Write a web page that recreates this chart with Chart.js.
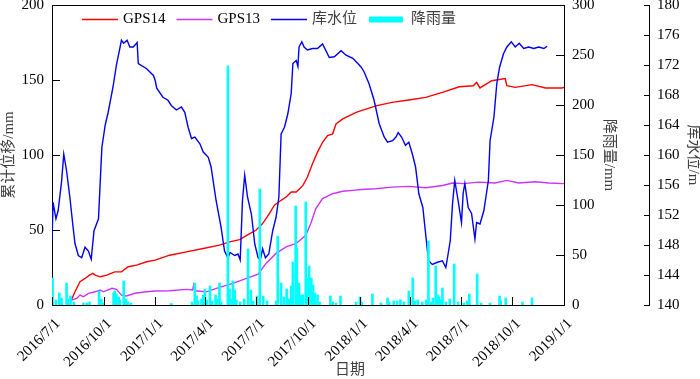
<!DOCTYPE html>
<html><head><meta charset="utf-8">
<script src="https://cdn.jsdelivr.net/npm/chart.js@4.4.0/dist/chart.umd.min.js"></script>
<style>html,body{margin:0;padding:0;background:#fff;}</style>
</head><body>
<canvas id="c" width="700" height="379"></canvas>
<script>
// ---------- data ----------
const xTickLabels = ['2016/7/1','2016/10/1','2017/1/1','2017/4/1','2017/7/1','2017/10/1','2018/1/1','2018/4/1','2018/7/1','2018/10/1','2019/1/1'];

const gps14Dates = ['2016-08-03','2016-08-11','2016-08-20','2016-08-29','2016-09-06','2016-09-12','2016-09-16','2016-09-25','2016-10-07','2016-10-21','2016-11-02','2016-11-14','2016-11-29','2016-12-17','2017-01-01','2017-01-27','2017-02-26','2017-03-28','2017-04-26','2017-05-14','2017-06-01','2017-06-19','2017-06-30','2017-07-12','2017-07-24','2017-08-02','2017-08-14','2017-08-23','2017-09-01','2017-09-10','2017-09-22','2017-09-30','2017-10-09','2017-10-18','2017-10-27','2017-11-05','2017-11-14','2017-11-20','2017-12-02','2017-12-14','2017-12-26','2018-01-04','2018-02-01','2018-02-28','2018-03-30','2018-04-29','2018-05-29','2018-06-28','2018-07-23','2018-07-29','2018-08-04','2018-08-25','2018-09-18','2018-09-21','2018-10-06','2018-11-05','2018-11-29','2018-12-28','2019-01-01'];
const gps14Values = [2.2,8.8,15.5,17.7,19.9,21.1,19.9,18.8,19.9,22.1,22.1,25.5,26.6,28.8,29.9,33.2,35.4,37.7,39.9,42.1,43.6,47.6,49.8,54.3,60.9,66.5,69.8,72.0,75.3,75.3,79.7,85.3,94.2,101.9,108.5,113.0,114.1,120.7,124.1,126.3,128.4,129.6,132.9,135.1,136.7,138.4,141.7,145.5,146.2,148.4,144.7,149.5,151.0,146.2,145.1,146.9,144.7,144.7,145.0];

const gps13Dates = ['2016-08-05','2016-08-14','2016-08-20','2016-08-26','2016-09-04','2016-09-16','2016-09-25','2016-10-01','2016-10-16','2016-10-24','2016-11-02','2016-11-11','2016-11-26','2016-12-17','2017-01-01','2017-01-27','2017-02-26','2017-03-09','2017-03-11','2017-03-13','2017-04-02','2017-04-26','2017-05-20','2017-06-13','2017-07-04','2017-07-18','2017-08-05','2017-08-23','2017-09-10','2017-09-27','2017-10-06','2017-10-15','2017-10-27','2017-11-14','2017-12-02','2017-12-20','2018-01-04','2018-01-30','2018-02-28','2018-03-30','2018-04-29','2018-05-29','2018-06-16','2018-07-06','2018-08-02','2018-08-31','2018-09-21','2018-10-12','2018-11-11','2018-12-05','2019-01-01'];
const gps13Values = [3.3,4.4,6.6,5.5,7.8,8.8,10.0,8.8,11.1,10.4,6.6,6.0,7.8,8.8,9.3,9.5,10.4,10.0,13.3,9.5,8.8,11.8,14.4,17.7,20.5,27.7,34.4,38.7,41.0,46.5,54.3,64.3,70.9,74.2,75.8,76.4,77.0,77.5,78.6,79.1,78.2,79.7,81.3,80.9,81.9,81.3,83.1,81.3,82.2,81.3,80.9];

const waterDates = [
 '2016-07-01','2016-07-03','2016-07-08','2016-07-12','2016-07-18','2016-07-22','2016-07-27','2016-08-02','2016-08-07','2016-08-11',
 '2016-08-17','2016-08-23','2016-08-29','2016-09-04','2016-09-09','2016-09-14','2016-09-22','2016-09-28','2016-10-04','2016-10-09',
 '2016-10-18','2016-10-24','2016-11-02','2016-11-06','2016-11-12','2016-11-17','2016-11-23','2016-11-30','2016-12-02','2016-12-17',
 '2016-12-29','2017-01-01','2017-01-04','2017-01-15','2017-01-24','2017-01-30','2017-02-08','2017-02-17','2017-02-23','2017-03-01',
 '2017-03-07','2017-03-13','2017-03-22','2017-03-28','2017-04-06','2017-04-11','2017-04-20','2017-04-29','2017-05-05','2017-05-11',
 '2017-05-15','2017-05-23','2017-05-29','2017-06-02','2017-06-06','2017-06-10','2017-06-15','2017-06-22','2017-06-28','2017-07-04',
 '2017-07-08','2017-07-12','2017-07-17','2017-07-23','2017-07-30','2017-08-05','2017-08-10','2017-08-14','2017-08-20','2017-08-26',
 '2017-09-01','2017-09-04','2017-09-10','2017-09-13','2017-09-15','2017-09-20','2017-09-24','2017-09-30','2017-10-09','2017-10-18',
 '2017-10-27','2017-11-08','2017-11-17','2017-11-29','2017-12-08','2017-12-20','2017-12-29','2018-01-04','2018-01-09','2018-01-18',
 '2018-01-27','2018-02-05','2018-02-14','2018-02-20','2018-03-01','2018-03-07','2018-03-11','2018-03-17','2018-03-24','2018-03-30',
 '2018-04-05','2018-04-11','2018-04-17','2018-04-24','2018-04-29','2018-05-04','2018-05-11','2018-05-20','2018-05-29','2018-06-04',
 '2018-06-07','2018-06-12','2018-06-16','2018-06-20','2018-06-26','2018-07-02','2018-07-05','2018-07-08','2018-07-14','2018-07-20',
 '2018-07-26','2018-07-29','2018-08-04','2018-08-11','2018-08-19','2018-08-22','2018-08-29','2018-09-03','2018-09-08','2018-09-15',
 '2018-09-21','2018-09-29','2018-10-06','2018-10-13','2018-10-21','2018-10-30','2018-11-08','2018-11-17','2018-11-26','2018-12-02'];
const waterLevels = [
 148.6,153.7,151.5,152.6,156.4,160.1,157.9,154.3,150.8,148.2,
 146.6,146.3,147.7,147.2,146.1,149.9,151.5,161.0,164.0,165.6,
 169.1,172.0,175.3,174.9,175.3,174.4,174.4,175.0,172.2,171.5,
 170.6,170.0,168.9,167.7,167.3,166.6,166.0,166.4,165.7,163.7,
 162.2,162.4,161.5,160.4,159.7,158.4,153.9,150.3,147.2,146.3,
 147.0,146.6,146.8,146.0,153.9,157.3,154.4,152.1,148.1,146.3,
 146.1,147.5,146.3,146.8,149.9,151.7,154.4,162.8,163.7,165.5,
 168.2,172.2,172.6,171.8,174.4,175.1,174.4,174.0,174.2,174.2,
 174.8,173.0,173.1,173.9,173.3,172.9,172.2,171.7,171.1,169.5,
 167.3,164.2,162.4,161.7,161.9,162.4,163.0,162.4,161.3,161.7,
 160.2,158.4,154.8,153.0,149.5,145.9,145.4,145.7,145.9,145.0,
 146.3,148.6,153.5,156.6,153.9,151.0,154.9,156.2,153.0,152.2,
 148.8,151.0,150.8,152.6,156.6,161.9,165.1,169.5,171.7,173.5,
 174.4,175.1,174.4,174.9,174.2,174.4,174.2,174.4,174.2,174.5];

const rainDates = ['2016-07-02','2016-07-08','2016-07-14','2016-07-18','2016-07-27','2016-07-30','2016-08-03','2016-08-09','2016-08-26','2016-09-01','2016-09-06','2016-09-23','2016-09-27','2016-10-01','2016-10-19','2016-10-21','2016-10-24','2016-10-28','2016-10-30','2016-11-06','2016-11-10','2016-11-14','2016-11-19','2017-01-30','2017-03-08','2017-03-13','2017-03-16','2017-03-19','2017-03-25','2017-03-28','2017-03-31','2017-04-03','2017-04-09','2017-04-13','2017-04-19','2017-04-22','2017-04-26','2017-04-29','2017-05-11','2017-05-14','2017-05-17','2017-05-20','2017-05-23','2017-05-26','2017-06-02','2017-06-09','2017-06-16','2017-06-21','2017-06-25','2017-07-02','2017-07-07','2017-07-13','2017-07-20','2017-08-05','2017-08-08','2017-08-14','2017-08-19','2017-08-24','2017-08-28','2017-09-01','2017-09-04','2017-09-09','2017-09-11','2017-09-15','2017-09-18','2017-09-22','2017-09-27','2017-09-30','2017-10-03','2017-10-07','2017-10-10','2017-10-13','2017-10-18','2017-10-22','2017-11-10','2017-11-14','2017-11-20','2017-11-28','2017-12-26','2018-01-02','2018-01-05','2018-01-24','2018-02-08','2018-02-20','2018-02-23','2018-03-03','2018-03-09','2018-03-15','2018-03-21','2018-03-30','2018-04-06','2018-04-10','2018-04-15','2018-04-23','2018-04-30','2018-05-04','2018-05-09','2018-05-12','2018-05-17','2018-05-20','2018-05-23','2018-05-26','2018-05-29','2018-06-04','2018-06-11','2018-06-19','2018-06-26','2018-07-06','2018-07-12','2018-07-16','2018-07-30','2018-08-06','2018-08-22','2018-09-08','2018-09-10','2018-09-19','2018-10-19','2018-11-05'];
const rainValues = [27,5,12,7,22,6,9,3,2,2,3,14,6,2,12,14,11,8,5,24,6,3,2,1.5,3,22,9,4,6,10,16,5,19,4,10,6,22,3,239,16,6,24,15,5,3,6,56,15,4,9,116,9,4,4,69,22,8,16,6,19,43,99,57,22,10,10,103,27,39,27,20,12,10,3,9,3,2,9,3,8,3,11,2,7,3,4,4,5,3,14,27,4,5,3,5,64,3,7,39,10,8,5,17,3,6,41,3,2,4,11,31,2,2,9,4,7,3,7];

// ---------- helpers ----------
function dayOf(s){ const p = s.split(/[-\/]/).map(Number); return (Date.UTC(p[0],p[1]-1,p[2]) - Date.UTC(2016,6,1))/86400000; }
const xTickDays = xTickLabels.map(dayOf);
function pts(d, v){ const n = Math.min(d.length, v.length); const out=[]; for(let i=0;i<n;i++) out.push({x:dayOf(d[i]), y:v[i]}); return out; }

const FONT = "'Liberation Serif','Times New Roman','Noto Sans CJK SC',serif";
Chart.defaults.font.family = FONT;
Chart.defaults.font.size = 15;
Chart.defaults.color = '#000';

const noGrid = {display:false, drawTicks:false};
const border = {display:true, color:'#000', width:1};
const titleColor = '#404040';

const overlay = {
  id:'overlay',
  afterDraw(chart){
    const {ctx, chartArea:a, scales} = chart;
    ctx.save();
    ctx.strokeStyle = '#000'; ctx.lineWidth = 1;
    const L = (x1,y1,x2,y2)=>{ctx.beginPath();ctx.moveTo(x1,y1);ctx.lineTo(x2,y2);ctx.stroke();};
    // top frame
    L(a.left, Math.round(a.top)+0.5, a.right, Math.round(a.top)+0.5);
    // inward ticks
    scales.y.ticks.forEach(t=>{const p=Math.round(scales.y.getPixelForValue(t.value))+0.5; L(a.left, p, a.left+8, p);});
    scales.yRain.ticks.forEach(t=>{const p=Math.round(scales.yRain.getPixelForValue(t.value))+0.5; L(a.right-8, p, a.right, p);});
    const xw = scales.yWater.left;
    scales.yWater.ticks.forEach(t=>{const p=Math.round(scales.yWater.getPixelForValue(t.value))+0.5; L(xw-5, p, xw, p);});
    scales.x.ticks.forEach(t=>{const p=Math.round(scales.x.getPixelForValue(t.value))+0.5; L(p, a.bottom, p, a.bottom-8);});
    // x title
    ctx.fillStyle = titleColor; ctx.font = '15px ' + FONT; ctx.textAlign='center'; ctx.textBaseline='middle';
    ctx.fillText('日期', 350, 370);
    // legend
    let x = 82; const y = 19.5;
    ctx.textAlign='left';
    chart.data.datasets.forEach(ds=>{
      if (ds.type === 'bar') { ctx.fillStyle = ds.backgroundColor; ctx.fillRect(x+1, y-3, 34, 6); }
      else { ctx.strokeStyle = ds.borderColor; ctx.lineWidth = 1.5; L(x, y, x+36, y); }
      const tx = x + (ds.type==='bar'?43:41);
      ctx.fillStyle = /[\u4e00-\u9fff]/.test(ds.label) ? titleColor : '#000';
      ctx.fillText(ds.label, tx, y);
      x = tx + ctx.measureText(ds.label).width + 11;
    });
    ctx.restore();
  }
};

new Chart(document.getElementById('c'), {
  type:'line',
  data:{datasets:[
    {label:'GPS14', data:pts(gps14Dates,gps14Values), yAxisID:'y', borderColor:'#ff0000', borderWidth:1.4, pointRadius:0, tension:0, fill:false, order:2},
    {label:'GPS13', data:pts(gps13Dates,gps13Values), yAxisID:'y', borderColor:'#cc33ff', borderWidth:1.4, pointRadius:0, tension:0, fill:false, order:3},
    {label:'库水位', data:pts(waterDates,waterLevels), yAxisID:'yWater', borderColor:'#0000ee', borderWidth:1.4, pointRadius:0, tension:0, fill:false, order:1},
    {type:'bar', label:'降雨量', data:pts(rainDates,rainValues), yAxisID:'yRain', backgroundColor:'#00ffff', borderWidth:0, barThickness:2, order:0}
  ]},
  options:{
    responsive:false, animation:false, devicePixelRatio:1,
    layout:{padding:{top:5,left:0,right:0,bottom:0}},
    plugins:{legend:{display:false}, tooltip:{enabled:false}},
    scales:{
      x:{type:'linear', min:0, max:dayOf('2019/1/1'), offset:false,
         afterBuildTicks:s=>{ s.ticks = xTickDays.map(v=>({value:v})); },
         ticks:{autoSkip:false, minRotation:45, maxRotation:45, padding:10, labelOffset:6, callback:(v,i)=>xTickLabels[i]},
         grid:noGrid, border:border,
         afterFit:s=>{ s.height = 74; s.paddingLeft=0; s.paddingRight=0; }},
      y:{position:'left', min:0, max:200, ticks:{stepSize:50, padding:8},
         grid:noGrid, border:border,
         title:{display:true, text:'累计位移/mm', color:titleColor, font:{size:15, lineHeight:1}, padding:{top:2,bottom:0}},
         afterFit:s=>{ s.width = 52; s.paddingTop=0; s.paddingBottom=0; }},
      yRain:{position:'right', weight:0, min:0, max:300, ticks:{stepSize:50, padding:8},
         grid:noGrid, border:border,
         title:{display:true, text:'降雨量/mm', color:titleColor, font:{size:15, lineHeight:1}, padding:{top:33,bottom:0}},
         afterFit:s=>{ s.width = 85; s.paddingTop=0; s.paddingBottom=0; }},
      yWater:{position:'right', weight:1, min:140, max:180, ticks:{stepSize:4, padding:8},
         grid:noGrid, border:border,
         title:{display:true, text:'库水位/m', color:titleColor, font:{size:15, lineHeight:1}, padding:{top:0,bottom:0}},
         afterFit:s=>{ s.width = 51; s.paddingTop=0; s.paddingBottom=0; }}
    }
  },
  plugins:[overlay]
});
</script>
</body></html>
